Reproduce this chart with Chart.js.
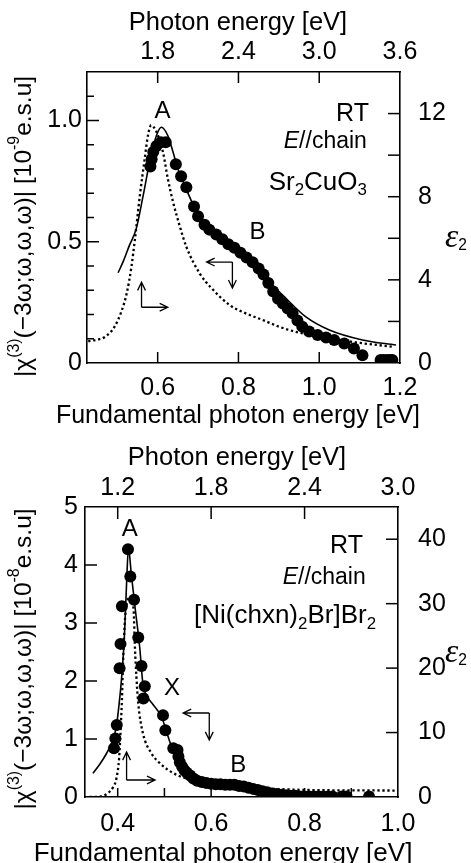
<!DOCTYPE html>
<html>
<head>
<meta charset="utf-8">
<script src="https://cdn.jsdelivr.net/npm/chart.js@4.4.1/dist/chart.umd.min.js"></script>
<style>
  html, body { margin: 0; padding: 0; background: #fff; overflow: hidden; }
  #wrap { position: relative; width: 471px; height: 863px; overflow: hidden; }
  canvas { position: absolute; left: 0; }
</style>
</head>
<body>
<div id="wrap">
  <canvas id="chartSr" width="471" height="440" style="top:0px"></canvas>
  <canvas id="chartNi" width="471" height="440" style="top:433px"></canvas>
</div>
<script>
var FONT = "'Liberation Sans', Arial, sans-serif";

// ---- Sr2CuO3 (upper panel) ----
// |chi(3)| dots, fundamental photon energy [eV] vs 10^-9 esu
var srDotE = [0.582, 0.585, 0.589, 0.597, 0.608, 0.620, 0.645, 0.658, 0.671, 0.690, 0.700, 0.716, 0.728, 0.745, 0.760, 0.775, 0.790, 0.805, 0.820, 0.835, 0.850, 0.862, 0.874, 0.886, 0.898, 0.910, 0.922, 0.934, 0.946, 0.958, 0.975, 0.996, 1.017, 1.037, 1.062, 1.086, 1.107, 1.152, 1.160, 1.169, 1.176, 1.181];
var srDotV = [0.81, 0.84, 0.87, 0.895, 0.91, 0.91, 0.82, 0.77, 0.725, 0.645, 0.605, 0.57, 0.55, 0.53, 0.51, 0.49, 0.475, 0.455, 0.435, 0.415, 0.39, 0.365, 0.33, 0.295, 0.265, 0.245, 0.225, 0.205, 0.175, 0.15, 0.13, 0.115, 0.105, 0.095, 0.08, 0.06, 0.032, 0.012, 0.012, 0.012, 0.012, 0.012];
// calculated |chi(3)| (solid line)
var srFitE = [0.502, 0.515, 0.530, 0.547, 0.564, 0.580, 0.597, 0.609, 0.625, 0.638, 0.650, 0.665, 0.690, 0.710, 0.730, 0.760, 0.790, 0.820, 0.850, 0.880, 0.918, 0.967, 1.025, 1.107, 1.190];
var srFitV = [0.372, 0.42, 0.485, 0.554, 0.69, 0.828, 0.938, 0.972, 0.938, 0.87, 0.80, 0.74, 0.645, 0.585, 0.55, 0.51, 0.475, 0.435, 0.39, 0.33, 0.266, 0.19, 0.136, 0.095, 0.074];
// epsilon2 (dotted), photon energy [eV]
var srEpsE = [1.284, 1.35, 1.41, 1.48, 1.53, 1.57, 1.605, 1.63, 1.668, 1.704, 1.728, 1.752, 1.77, 1.791, 1.839, 1.875, 1.914, 1.962, 2.013, 2.112, 2.20, 2.334, 2.45, 2.58, 2.70, 2.826, 3.075, 3.321, 3.555];
var srEpsV = [1.05, 1.12, 1.26, 1.75, 2.47, 3.35, 4.63, 5.9, 8.08, 9.84, 10.96, 11.44, 11.35, 11.12, 10.16, 8.88, 7.75, 6.63, 5.59, 4.31, 3.6, 2.79, 2.4, 2.07, 1.75, 1.5, 1.19, 0.95, 0.78];

var srXTicks = [0.6, 0.8, 1.0, 1.2];
var srTopTicks = [1.8, 2.4, 3.0, 3.6];
var srYTicks = [0, 0.5, 1.0];
var srYMinor = [0.1, 0.2, 0.3, 0.4, 0.6, 0.7, 0.8, 0.9, 1.1];
var srY2Ticks = [0, 4, 8, 12];
var srY2Minor = [2, 6, 10];

// ---- [Ni(chxn)2Br]Br2 (lower panel) ----
var niDotE = [0.392, 0.395, 0.398, 0.404, 0.406, 0.409, 0.422, 0.427, 0.435, 0.444, 0.451, 0.455, 0.458, 0.497, 0.502, 0.519, 0.528, 0.530, 0.533, 0.538, 0.543, 0.548, 0.555, 0.562, 0.570, 0.580, 0.590, 0.600, 0.610, 0.620, 0.630, 0.640, 0.650, 0.660, 0.670, 0.680, 0.690, 0.700, 0.710, 0.720, 0.730, 0.740, 0.750, 0.760, 0.770, 0.780, 0.790, 0.800, 0.810, 0.820, 0.830, 0.840, 0.850, 0.860, 0.880, 0.890, 0.938];
var niDotV = [0.84, 1.01, 1.24, 2.22, 2.64, 3.29, 4.27, 3.80, 3.40, 2.75, 2.26, 1.70, 1.91, 1.41, 1.15, 0.84, 0.81, 0.70, 0.60, 0.52, 0.46, 0.42, 0.37, 0.32, 0.28, 0.26, 0.24, 0.23, 0.22, 0.22, 0.21, 0.21, 0.21, 0.19, 0.18, 0.16, 0.14, 0.12, 0.10, 0.08, 0.06, 0.05, 0.04, 0.03, 0.02, 0.02, 0.01, 0.01, 0.01, 0.01, 0.01, 0.01, 0.01, 0.01, 0.01, 0.01, 0.01];
var niFitE = [0.347, 0.362, 0.376, 0.388, 0.397, 0.403, 0.408, 0.414, 0.419, 0.423, 0.429, 0.437, 0.447, 0.454, 0.462, 0.476, 0.494, 0.508, 0.519, 0.530, 0.545, 0.560, 0.580, 0.600];
var niFitV = [0.41, 0.57, 0.75, 0.95, 1.21, 1.6, 2.02, 2.71, 3.68, 4.3, 3.85, 3.28, 2.59, 1.95, 1.75, 1.59, 1.38, 1.04, 0.78, 0.6, 0.45, 0.35, 0.28, 0.24];
var niEpsE = [1.02, 1.095, 1.137, 1.17, 1.191, 1.209, 1.218, 1.227, 1.236, 1.248, 1.263, 1.284, 1.302, 1.311, 1.32, 1.332, 1.362, 1.416, 1.482, 1.557, 1.65, 1.8, 2.1, 2.4, 3.0];
var niEpsV = [0.0, 0.1, 0.6, 1.5, 2.8, 6.0, 10, 15, 22, 28, 30.5, 31, 29, 23, 18.7, 14.5, 9.9, 6.8, 5.0, 3.7, 2.8, 2.0, 1.4, 1.1, 1.0];

var niXTicks = [0.4, 0.6, 0.8, 1.0];
var niXMinor = [0.5, 0.7, 0.9];
var niTopTicks = [1.2, 1.8, 2.4, 3.0];
var niYTicks = [0, 1, 2, 3, 4, 5];
var niY2Ticks = [0, 10, 20, 30, 40];

function pts(xs, ys) {
    return xs.map(function (x, i) { return { x: x, y: ys[i] }; });
}

// text made of pieces: ['text', style]  style: '' | 'sub' | 'sup' | 'it' | 'eps'
function richText(ctx, parts, x, y, size, align) {
    var w = 0;
    var info = parts.map(function (p) {
        var s = (p[1] === 'sub' || p[1] === 'sup') ? size * 0.65 : size;
        var f = s + 'px ' + FONT;
        if (p[1] === 'it') f = 'italic ' + f;
        if (p[1] === 'eps') f = 'italic ' + (size * 1.4) + "px 'Liberation Serif', serif";
        ctx.font = f;
        var pw = ctx.measureText(p[0]).width;
        w += pw;
        return { f: f, w: pw };
    });
    var cx = align === 'right' ? x - w : (align === 'center' ? x - w / 2 : x);
    ctx.textAlign = 'left';
    ctx.textBaseline = 'middle';
    parts.forEach(function (p, i) {
        ctx.font = info[i].f;
        var dy = p[1] === 'sub' ? size * 0.32 : (p[1] === 'sup' ? -size * 0.38 : 0);
        ctx.fillText(p[0], cx, y + dy);
        cx += info[i].w;
    });
}

function arrow(ctx, x1, y1, x2, y2) {
    var a = Math.atan2(y2 - y1, x2 - x1), h = 9;
    ctx.beginPath();
    ctx.moveTo(x1, y1);
    ctx.lineTo(x2, y2);
    ctx.moveTo(x2 - h * Math.cos(a - 0.45), y2 - h * Math.sin(a - 0.45));
    ctx.lineTo(x2, y2);
    ctx.lineTo(x2 - h * Math.cos(a + 0.45), y2 - h * Math.sin(a + 0.45));
    ctx.stroke();
}

function decorate(chart, d) {
    var ctx = chart.ctx, a = chart.chartArea, sx = chart.scales.x, sy = chart.scales.y;
    ctx.save();
    ctx.strokeStyle = '#000';
    ctx.fillStyle = '#000';
    ctx.lineWidth = 1.5;
    // inward tick marks
    d.ticks.forEach(function (t) {
        var s = chart.scales[t.axis];
        t.values.forEach(function (v) {
            var p = s.getPixelForValue(v);
            ctx.beginPath();
            if (t.side === 'bottom') { ctx.moveTo(p, a.bottom); ctx.lineTo(p, a.bottom - t.len); }
            if (t.side === 'top') { ctx.moveTo(p, a.top); ctx.lineTo(p, a.top + t.len); }
            if (t.side === 'left') { ctx.moveTo(a.left, p); ctx.lineTo(a.left + t.len, p); }
            if (t.side === 'right') { ctx.moveTo(a.right, p); ctx.lineTo(a.right - t.len, p); }
            ctx.stroke();
        });
    });
    // arrows: corner, then two heads
    ctx.lineWidth = 1.3;
    d.arrows.forEach(function (r) {
        var cx = sx.getPixelForValue(r[0]), cy = sy.getPixelForValue(r[1]);
        arrow(ctx, cx, cy, sx.getPixelForValue(r[2]), sy.getPixelForValue(r[3]));
        arrow(ctx, cx, cy, sx.getPixelForValue(r[4]), sy.getPixelForValue(r[5]));
    });
    // labels in the plot
    d.labels.forEach(function (l) {
        richText(ctx, l.parts, sx.getPixelForValue(l.x), sy.getPixelForValue(l.y), l.size, l.align);
    });
    // x axis titles (wider than the plot, so drawn here)
    richText(ctx, [['Photon energy [eV]', '']], d.topTitle[0], d.topTitle[1], d.topTitle[2], 'center');
    richText(ctx, [['Fundamental photon energy [eV]', '']], d.bottomTitle[0], d.bottomTitle[1], d.bottomTitle[2], 'center');
    // left axis title, rotated
    ctx.save();
    ctx.translate(24, (a.top + a.bottom) / 2 + d.titleShift);
    ctx.rotate(-Math.PI / 2);
    richText(ctx, [['|\u03c7', ''], ['(3)', 'sup'], ['(\u22123\u03c9;\u03c9,\u03c9,\u03c9)| [10', ''], [d.exp, 'sup'], ['e.s.u]', '']], 0, 0, 24.5, 'center');
    ctx.restore();
    // right axis title
    richText(ctx, [['\u03b5', 'eps'], ['2', 'sub']], 445, d.epsY, 24, 'left');
    ctx.restore();
}

function axis(pos, min, max, ticks, size, pad, fmt) {
    var horiz = pos === 'top' || pos === 'bottom';
    return {
        type: 'linear',
        axis: horiz ? 'x' : 'y',
        position: pos,
        min: min,
        max: max,
        bounds: 'data',
        grid: { display: false, drawTicks: false },
        border: { display: true, color: '#000', width: 1.6 },
        afterBuildTicks: function (s) { s.ticks = ticks.map(function (v) { return { value: v }; }); },
        afterFit: function (s) { if (horiz) s.height = size; else s.width = size; },
        ticks: {
            color: '#000', padding: pad, autoSkip: false, maxRotation: 0,
            font: { family: FONT, size: 25 },
            callback: fmt
        },
        title: { display: false }
    };
}

function oneDec(v) { return v.toFixed(1); }
function yFmt(v) { return v === 0 ? '0' : v.toFixed(1); }
function intFmt(v) { return String(v); }

function buildChart(id, d) {
    return new Chart(document.getElementById(id), {
        type: 'scatter',
        data: {
            datasets: [{
                data: pts(d.dotE, d.dotV),
                xAxisID: 'x', yAxisID: 'y',
                showLine: false,
                pointRadius: 6,
                pointBackgroundColor: '#000',
                pointBorderWidth: 0
            }, {
                data: pts(d.fitE, d.fitV),
                xAxisID: 'x', yAxisID: 'y',
                showLine: true,
                pointRadius: 0,
                borderColor: '#000',
                borderWidth: 1.6,
                cubicInterpolationMode: 'monotone'
            }, {
                data: pts(d.epsE, d.epsV),
                xAxisID: 'x2', yAxisID: 'y2',
                showLine: true,
                pointRadius: 0,
                borderColor: '#000',
                borderWidth: 2.3,
                borderDash: [2.3, 2.7],
                cubicInterpolationMode: 'monotone'
            }]
        },
        options: {
            responsive: false,
            animation: false,
            events: [],
            layout: { padding: 0 },
            plugins: { legend: { display: false }, tooltip: { enabled: false } },
            scales: {
                x: axis('bottom', d.xMin, d.xMax, d.xTicks, d.bottomH, d.bottomPad, oneDec),
                x2: axis('top', d.xMin * 3, d.xMax * 3, d.topTicks, d.topH, d.topPad, oneDec),
                y: axis('left', 0, d.yMax, d.yTicks, d.leftW, d.leftPad, d.yFmt),
                y2: axis('right', 0, d.y2Max, d.y2Ticks, d.rightW, d.rightPad, intFmt)
            }
        },
        plugins: [{ id: 'deco', afterDraw: function (c) { decorate(c, d); } }]
    });
}

var chartSr = buildChart('chartSr', {
    dotE: srDotE, dotV: srDotV, fitE: srFitE, fitV: srFitV, epsE: srEpsE, epsV: srEpsV,
    xMin: 0.425, xMax: 1.2, yMax: 1.2, y2Max: 14,
    xTicks: srXTicks, topTicks: srTopTicks, yTicks: srYTicks, y2Ticks: srY2Ticks, yFmt: yFmt,
    leftW: 87, rightW: 71, topH: 72, bottomH: 77,
    leftPad: 5, rightPad: 18, topPad: 5, bottomPad: 10,
    topTitle: [238, 23, 25.5], bottomTitle: [238, 416, 25],
    exp: '-9', titleShift: 9, epsY: 238,
    ticks: [
        { axis: 'x', side: 'bottom', values: [0.6, 0.8, 1.0], len: 11 },
        { axis: 'x2', side: 'top', values: [1.8, 2.4, 3.0], len: 11 },
        { axis: 'y', side: 'left', values: [0.5, 1.0], len: 12 },
        { axis: 'y', side: 'left', values: srYMinor, len: 7 },
        { axis: 'y2', side: 'right', values: [4, 8, 12].concat(srY2Minor), len: 12 }
    ],
    arrows: [[0.560, 0.230, 0.560, 0.333, 0.625, 0.230], [0.785, 0.416, 0.721, 0.416, 0.785, 0.309]],
    labels: [
        { parts: [['A', '']], x: 0.612, y: 1.037, size: 24, align: 'center' },
        { parts: [['B', '']], x: 0.847, y: 0.539, size: 24, align: 'center' },
        { parts: [['RT', '']], x: 1.123, y: 1.025, size: 25, align: 'right' },
        { parts: [['E', 'it'], ['//chain', '']], x: 1.118, y: 0.914, size: 23, align: 'right' },
        { parts: [['Sr', ''], ['2', 'sub'], ['CuO', ''], ['3', 'sub']], x: 1.118, y: 0.745, size: 26, align: 'right' }
    ]
});

var chartNi = buildChart('chartNi', {
    dotE: niDotE, dotV: niDotV, fitE: niFitE, fitV: niFitV, epsE: niEpsE, epsV: niEpsV,
    xMin: 0.33, xMax: 1.0, yMax: 5, y2Max: 45,
    xTicks: niXTicks, topTicks: niTopTicks, yTicks: niYTicks, y2Ticks: niY2Ticks, yFmt: intFmt,
    leftW: 85, rightW: 73, topH: 74, bottomH: 76,
    leftPad: 7, rightPad: 20, topPad: 4, bottomPad: 12,
    topTitle: [237, 25, 25.5], bottomTitle: [223, 421, 26],
    exp: '-8', titleShift: 7, epsY: 220,
    ticks: [
        { axis: 'x', side: 'bottom', values: [0.4, 0.6, 0.8].concat(niXMinor), len: 9 },
        { axis: 'x2', side: 'top', values: [1.2, 1.8, 2.4], len: 12 },
        { axis: 'y', side: 'left', values: [1, 2, 3, 4], len: 12 },
        { axis: 'y2', side: 'right', values: [10, 20, 30, 40], len: 12 }
    ],
    arrows: [[0.419, 0.293, 0.419, 0.776, 0.480, 0.293], [0.596, 1.448, 0.540, 1.448, 0.596, 0.983]],
    labels: [
        { parts: [['A', '']], x: 0.426, y: 4.62, size: 24, align: 'center' },
        { parts: [['X', '']], x: 0.516, y: 1.88, size: 24, align: 'center' },
        { parts: [['B', '']], x: 0.658, y: 0.55, size: 24, align: 'center' },
        { parts: [['RT', '']], x: 0.925, y: 4.33, size: 25, align: 'right' },
        { parts: [['E', 'it'], ['//chain', '']], x: 0.931, y: 3.79, size: 23, align: 'right' },
        { parts: [['[Ni(chxn)', ''], ['2', 'sub'], ['Br]Br', ''], ['2', 'sub']], x: 0.953, y: 3.12, size: 26, align: 'right' }
    ]
});
</script>
</body>
</html>
